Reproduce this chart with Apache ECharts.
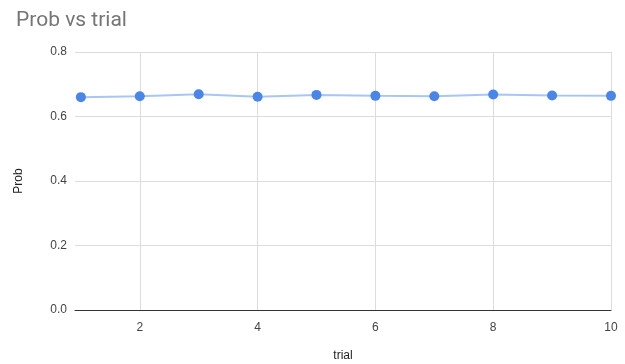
<!DOCTYPE html>
<html><head><meta charset="utf-8">
<script src="https://cdn.jsdelivr.net/npm/echarts@6/dist/echarts.min.js"></script>
<style>html,body{margin:0;padding:0;background:#fff}#c{width:625px;height:364px}</style>
</head><body><div id="c"></div>
<script>
const trials = [1,2,3,4,5,6,7,8,9,10];
const prob = [0.660,0.663,0.669,0.661,0.667,0.664,0.663,0.668,0.665,0.664];
const xTicks = [2,4,6,8,10];
const yTicks = [0,0.2,0.4,0.6,0.8];

const chart = echarts.init(document.getElementById('c'));
chart.setOption({
  animation:false,
  title:{text:'Prob vs trial',left:11,top:5,textStyle:{fontFamily:'Roboto',fontSize:21,fontWeight:'normal',color:'#757575'}},
  grid:{left:75,right:14,top:52,bottom:54,containLabel:false,outerBoundsMode:'none'},
  xAxis:{type:'value',min:0.9,max:10,name:'trial',nameLocation:'middle',nameGap:40,
    nameTextStyle:{fontFamily:'Liberation Sans',fontSize:12,color:'#222'},
    axisLine:{show:true,onZero:false,lineStyle:{color:'#333',width:1}},
    axisTick:{show:false,customValues:xTicks},
    axisLabel:{customValues:xTicks,color:'#444',fontFamily:'Liberation Sans',fontSize:12,margin:12},
    splitLine:{show:true,customValues:xTicks,lineStyle:{color:'#dcdcdc'}}},
  yAxis:{type:'value',min:0,max:0.8,interval:0.2,name:'Prob',nameLocation:'middle',nameGap:50,
    nameTextStyle:{fontFamily:'Liberation Sans',fontSize:12,color:'#222'},
    axisLine:{show:false},axisTick:{show:false},
    axisLabel:{color:'#444',fontFamily:'Liberation Sans',fontSize:12,margin:8,formatter:v=>v.toFixed(1)},
    splitLine:{lineStyle:{color:'#dcdcdc'}}},
  series:[{type:'line',data:trials.map((t,i)=>[t,prob[i]]),symbol:'circle',symbolSize:10,
    lineStyle:{color:'#a9c6f2',width:2},itemStyle:{color:'#4a86e8'}}]
});
</script></body></html>
